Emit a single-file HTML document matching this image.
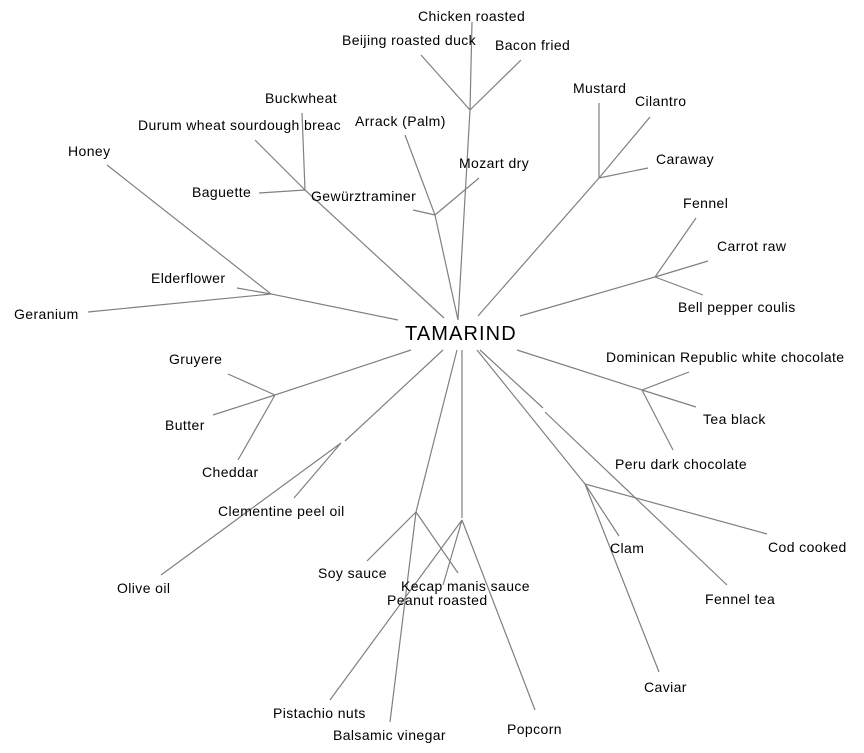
<!DOCTYPE html>
<html><head><style>html,body{margin:0;padding:0;background:#fff}svg{display:block}</style></head>
<body>
<svg width="864" height="753" viewBox="0 0 864 753" xmlns="http://www.w3.org/2000/svg">
<g stroke="#808080" stroke-width="1.2" fill="none">
<path d="M458 320L470 110M470 110L421 55M470 110L472 22M470 110L521 60"/>
<path d="M458 320L435 215L405 135M435 215L479 178M435 215L413 210"/>
<path d="M444 318L305 190L302 113M305 190L255 140M305 190L259 193"/>
<path d="M478 316L599 178L599 103M599 178L650 117M599 178L648 168"/>
<path d="M520 316L655 277L696 218M655 277L708 261M655 277L703 295"/>
<path d="M398 320L271 294L107 165M271 294L237 288M271 294L88 312"/>
<path d="M411 350L275 395L228 374M275 395L213 415M275 395L238 460"/>
<path d="M443 350L345 441M341 443L161 575M341 443L294 498"/>
<path d="M457 350L416 512L367 561M416 512L458 573M416 512L390 722"/>
<path d="M462 350L462 518M462 520L330 700M462 520L443 585M462 520L535 710"/>
<path d="M477 350L585 484L767 534M585 484L619 536M585 484L659 672"/>
<path d="M480 350L543 408M545 412L727 585"/>
<path d="M517 350L642 390L689 372M642 390L696 407M642 390L673 450"/>
</g>
<g font-family="Liberation Sans, Arial, sans-serif" font-size="14" letter-spacing="0.4" fill="#000">
<text x="418" y="21">Chicken roasted</text>
<text x="342" y="45">Beijing roasted duck</text>
<text x="495" y="50">Bacon fried</text>
<text x="265" y="103">Buckwheat</text>
<text x="138" y="130">Durum wheat sourdough breac</text>
<text x="355" y="126">Arrack (Palm)</text>
<text x="459" y="168">Mozart dry</text>
<text x="192" y="197">Baguette</text>
<text x="311" y="201">Gewürztraminer</text>
<text x="68" y="156">Honey</text>
<text x="151" y="283">Elderflower</text>
<text x="14" y="319">Geranium</text>
<text x="573" y="93">Mustard</text>
<text x="635" y="106">Cilantro</text>
<text x="656" y="164">Caraway</text>
<text x="683" y="208">Fennel</text>
<text x="717" y="251">Carrot raw</text>
<text x="678" y="312">Bell pepper coulis</text>
<text x="606" y="362">Dominican Republic white chocolate</text>
<text x="703" y="424">Tea black</text>
<text x="615" y="469">Peru dark chocolate</text>
<text x="169" y="364">Gruyere</text>
<text x="165" y="430">Butter</text>
<text x="202" y="477">Cheddar</text>
<text x="218" y="516">Clementine peel oil</text>
<text x="117" y="593">Olive oil</text>
<text x="318" y="578">Soy sauce</text>
<text x="401" y="591">Kecap manis sauce</text>
<text x="387" y="605">Peanut roasted</text>
<text x="273" y="718">Pistachio nuts</text>
<text x="333" y="740">Balsamic vinegar</text>
<text x="507" y="734">Popcorn</text>
<text x="610" y="553">Clam</text>
<text x="768" y="552">Cod cooked</text>
<text x="705" y="604">Fennel tea</text>
<text x="644" y="692">Caviar</text>
<text x="405" y="340" font-size="20" letter-spacing="1.1">TAMARIND</text>
</g>
</svg>
</body></html>
